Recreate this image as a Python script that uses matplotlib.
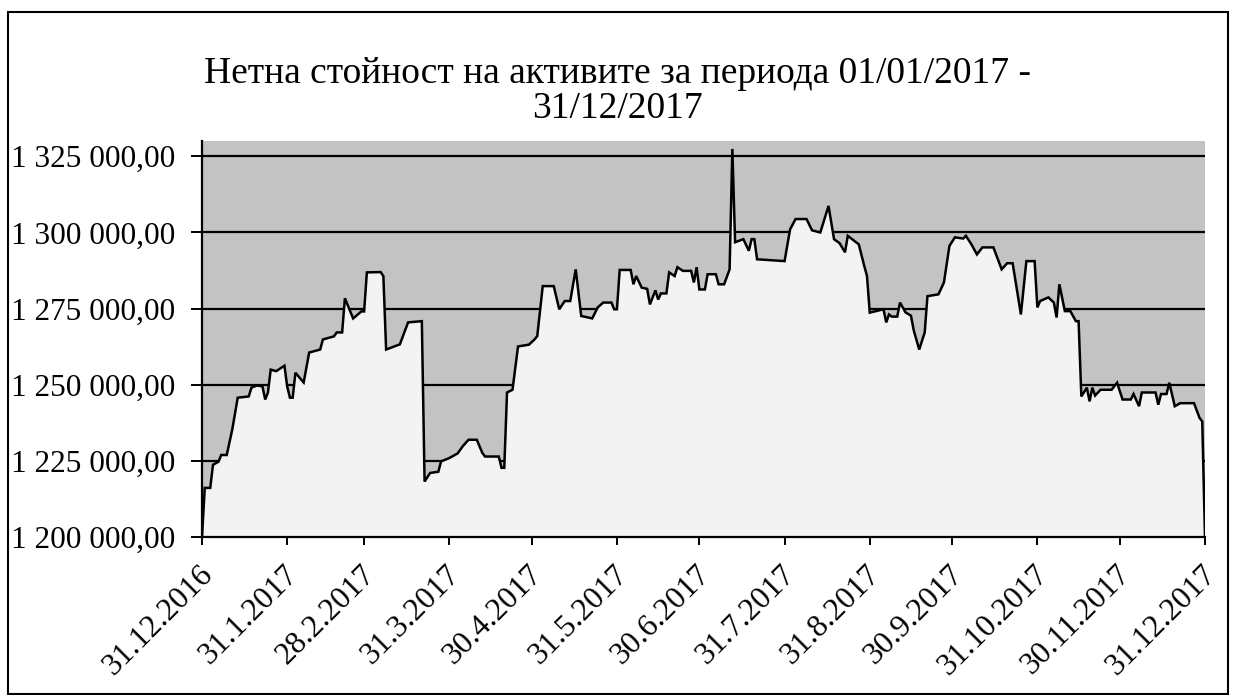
import matplotlib
matplotlib.use('Agg')
import matplotlib.pyplot as plt
import matplotlib.ticker as mticker
from matplotlib.patches import Rectangle
from matplotlib.transforms import ScaledTranslation
import pandas as pd

plt.rcParams['font.family'] = ['Liberation Serif', 'DejaVu Serif']

# ---- data ----
start_date = '2016-12-31'
day_offset = [0, 1, 3, 4, 6, 7, 9, 11, 13, 17, 18, 20, 22, 23, 24, 25, 27, 30, 31, 32,
              33, 34, 36, 37, 39, 43, 44, 48, 49, 51, 52, 55, 58, 59, 60, 65, 66, 67, 72, 75,
              80, 81, 83, 86, 87, 90, 93, 95, 97, 100, 102, 103, 108, 109, 110, 111, 113, 115, 119, 121,
              122, 124, 128, 130, 132, 134, 136, 138, 142, 144, 146, 149, 150, 151, 152, 156, 157, 158, 160, 162,
              163, 165, 166, 167, 169, 170, 172, 173, 175, 178, 179, 180, 181, 183, 184, 187, 188, 190, 192, 193,
              194, 197, 199, 200, 201, 202, 212, 214, 216, 220, 222, 225, 228, 230, 232, 234, 235, 239, 241, 242,
              243, 248, 249, 250, 251, 253, 254, 256, 258, 259, 261, 263, 264, 268, 270, 272, 274, 277, 278, 280,
              282, 284, 288, 291, 293, 295, 298, 300, 303, 304, 305, 308, 310, 311, 312, 314, 316, 318, 319, 320,
              322, 323, 324, 325, 327, 331, 333, 335, 338, 339, 341, 342, 347, 348, 349, 351, 352, 354, 356, 361,
              363, 364, 365]
nav_values = [1200000, 1216200, 1216200, 1223800, 1224800, 1227000, 1227000, 1235300, 1245800, 1246200,
              1249100, 1249800, 1249500, 1245200, 1247500, 1255000, 1254500, 1256300, 1249500, 1245800,
              1245800, 1254000, 1251800, 1250800, 1260600, 1261600, 1264900, 1265900, 1267200, 1267200,
              1278400, 1271800, 1274100, 1274100, 1286900, 1287000, 1285700, 1261600, 1263300, 1270500,
              1270900, 1218300, 1221100, 1221500, 1224900, 1226000, 1227500, 1230000, 1232000, 1232000,
              1227700, 1226500, 1226500, 1222800, 1222800, 1247500, 1248400, 1262600, 1263200, 1264900,
              1266000, 1282400, 1282400, 1274800, 1277500, 1277500, 1287900, 1272600, 1271800, 1275400,
              1277000, 1277000, 1274800, 1274800, 1287700, 1287700, 1283000, 1285700, 1281900, 1281500,
              1276400, 1281000, 1278000, 1280000, 1280000, 1286900, 1285700, 1288600, 1287400, 1287400,
              1283600, 1288600, 1281300, 1281300, 1286300, 1286300, 1283000, 1283000, 1287900, 1327400,
              1296800, 1297800, 1294000, 1297800, 1297800, 1291200, 1290600, 1301000, 1304400, 1304400,
              1300700, 1300000, 1308700, 1297800, 1296500, 1293500, 1298900, 1296100, 1289000, 1285700,
              1273700, 1274800, 1270500, 1273100, 1272400, 1272400, 1277000, 1273800, 1272700, 1267900,
              1261600, 1267200, 1279100, 1279700, 1283600, 1295600, 1298400, 1298000, 1298900, 1296100,
              1292800, 1295100, 1295100, 1287900, 1289900, 1289900, 1273100, 1290600, 1290600, 1275400,
              1277500, 1278700, 1277000, 1272100, 1283000, 1274200, 1274200, 1270900, 1270900, 1246200,
              1249100, 1244600, 1249100, 1246500, 1248400, 1248400, 1250700, 1245200, 1245200, 1247000,
              1243000, 1247500, 1247500, 1243500, 1247000, 1247000, 1250700, 1243000, 1244000, 1244000,
              1239200, 1238000, 1200000]

tick_dates = ['2016-12-31', '2017-01-31', '2017-02-28', '2017-03-31', '2017-04-30', '2017-05-31',
              '2017-06-30', '2017-07-31', '2017-08-31', '2017-09-30', '2017-10-31', '2017-11-30',
              '2017-12-31']
tick_labels = ['31.12.2016', '31.1.2017', '28.2.2017', '31.3.2017', '30.4.2017', '31.5.2017',
               '30.6.2017', '31.7.2017', '31.8.2017', '30.9.2017', '31.10.2017', '30.11.2017',
               '31.12.2017']
y_ticks = [1200000, 1225000, 1250000, 1275000, 1300000, 1325000]
y_limits = (1200000, 1330000)
title_text = 'Нетна стойност на активите за периода 01/01/2017 -\n31/12/2017'

# ---- figure ----
W, H = 1233, 695
fig = plt.figure(figsize=(W / 100, H / 100), dpi=100)
fig.patch.set_facecolor('white')

left, right, top, bottom = 202, 1205, 141, 537.3
ax = fig.add_axes([left / W, 1 - bottom / H, (right - left) / W, (bottom - top) / H])

dates = pd.Timestamp(start_date) + pd.to_timedelta(day_offset, unit='D')

ax.set_facecolor('#c3c3c3')
ax.fill_between(dates, nav_values, y_limits[0] - 50000, color='#f3f3f3', zorder=1, linewidth=0)
ax.plot(dates, nav_values, color='black', lw=1.8, zorder=3, solid_joinstyle='miter')

ax.set_ylim(*y_limits)
ax.set_xlim(pd.Timestamp(tick_dates[0]), pd.Timestamp(tick_dates[-1]))

ax.set_yticks(y_ticks)
ax.yaxis.set_major_formatter(mticker.FuncFormatter(
    lambda v, p: f'{v:,.2f}'.replace(',', ' ').replace('.', ',')))
ax.set_xticks(pd.to_datetime(tick_dates))
ax.set_xticklabels(tick_labels, rotation=45, ha='right', va='top', rotation_mode='anchor')

ax.set_axisbelow(True)
ax.yaxis.grid(True, color='black', lw=1.6)
ax.xaxis.grid(False)

for s in ['top', 'right']:
    ax.spines[s].set_visible(False)
for s in ['left', 'bottom']:
    ax.spines[s].set_color('black')
    ax.spines[s].set_linewidth(1.6)
    ax.spines[s].set_zorder(4)

ax.tick_params(axis='y', direction='out', length=8, width=1.4, labelsize=22.5, pad=11, colors='black')
ax.tick_params(axis='x', direction='out', length=6, width=1.4, labelsize=22.8, pad=10, colors='black')

shift = ScaledTranslation(-4 / 100, 0, fig.dpi_scale_trans)
for lab in ax.get_xticklabels():
    lab.set_transform(lab.get_transform() + shift)

fig.text(617 / W, 1 - 91 / H, title_text, ha='center', va='center', fontsize=27,
         linespacing=1.0, color='black')

fig.add_artist(Rectangle((8 / W, 1 / H), (1228 - 8) / W, (694 - 12) / H,
                         transform=fig.transFigure, fill=False, edgecolor='black', lw=1.5))

fig.savefig('out.png', dpi=100)
